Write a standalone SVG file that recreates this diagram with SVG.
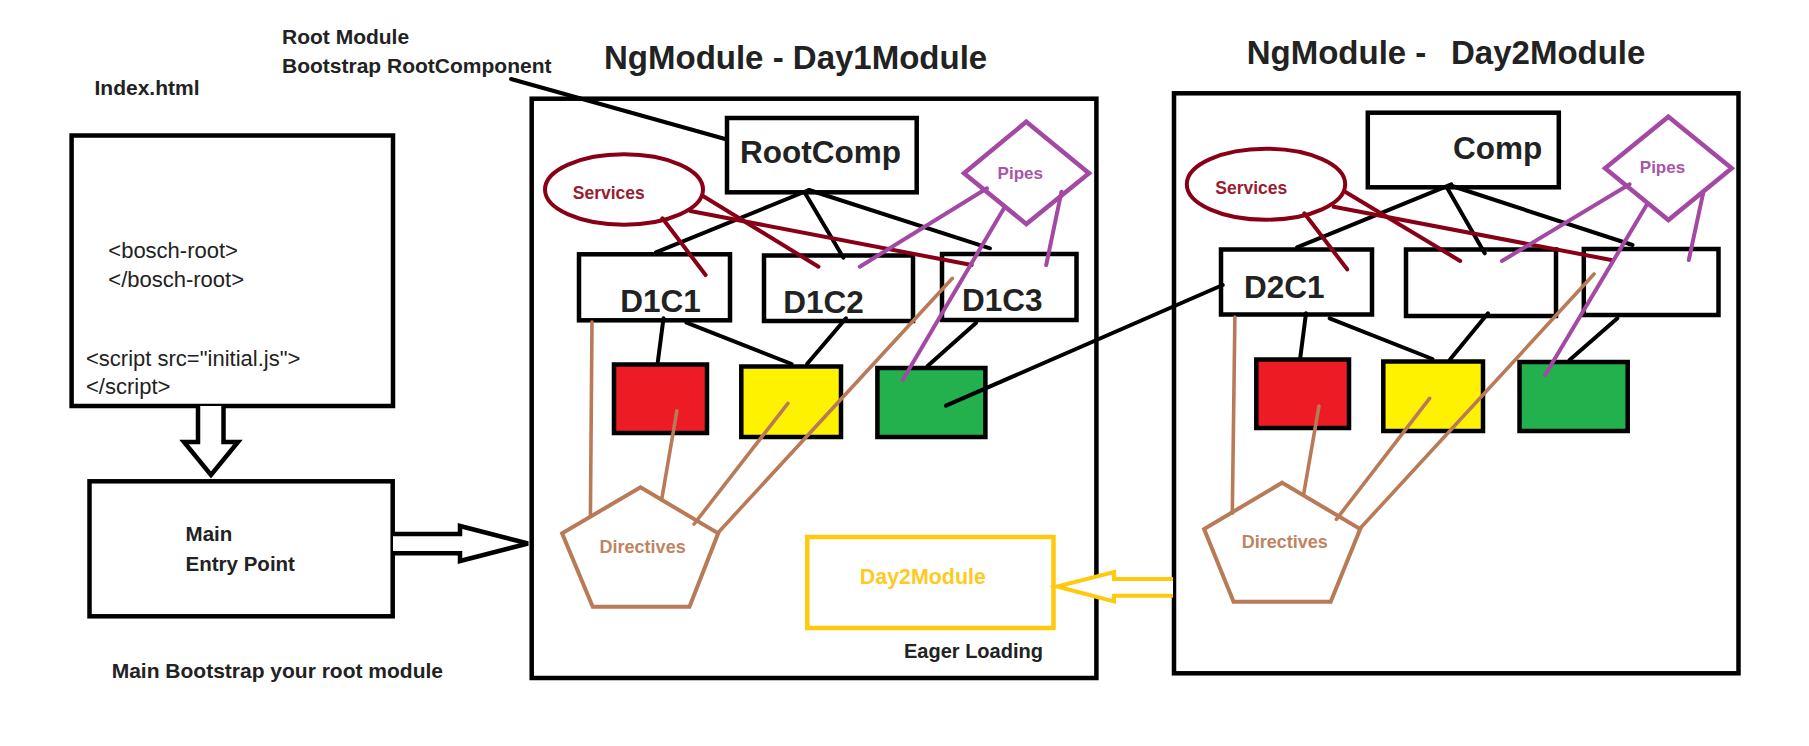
<svg xmlns="http://www.w3.org/2000/svg" width="1809" height="746" viewBox="0 0 1809 746">
<style>
text{font-family:"Liberation Sans",Arial,sans-serif;fill:#222}
.b{font-weight:bold}
.box{fill:#fff;stroke:#000;stroke-width:4.5}
.k{stroke:#000;stroke-width:4;fill:none;stroke-linecap:round}
.dr{stroke:#880015;stroke-width:4;fill:none;stroke-linecap:round}
.pu{stroke:#a349a4;stroke-width:4;fill:none;stroke-linecap:round}
.br{stroke:#b97a57;stroke-width:3.6;fill:none;stroke-linecap:round}
.svc{fill:#fff;stroke:#880015;stroke-width:4}
.svct{fill:#9a1c30;font-weight:bold;font-size:17.5px}
.pip{fill:#fff;stroke:#a349a4;stroke-width:4.5;stroke-linejoin:miter}
.pipt{fill:#a855a9;font-weight:bold;font-size:17px}
.pent{fill:#fff;stroke:#b97a57;stroke-width:4}
.dirt{fill:#bf8463;font-weight:bold;font-size:18px}
.big{font-weight:bold;font-size:31.5px}
</style>
<rect width="1809" height="746" fill="#fff"/>

<!-- left side -->
<g id="index">
<rect class="box" x="71.6" y="135.5" width="321.4" height="270.5"/>
<text x="108.3" y="258.3" font-size="22">&lt;bosch-root&gt;</text>
<text x="108.3" y="287.3" font-size="22">&lt;/bosch-root&gt;</text>
<text x="86" y="366" font-size="22">&lt;script src="initial.js"&gt;</text>
<text x="86" y="394" font-size="22">&lt;/script&gt;</text>
</g>
<g id="main">
<rect class="box" x="89.5" y="481.3" width="303.2" height="135"/>
<text class="b" x="185.6" y="541" font-size="20.5">Main</text>
<text class="b" x="185.6" y="570.7" font-size="20.5">Entry Point</text>
</g>

<!-- Day1 module -->
<g id="day1">
<rect class="box" x="531.7" y="98.7" width="564.7" height="579.3"/>
</g>
<g id="rootcomp">
<rect class="box" x="727" y="118" width="189.7" height="74.3"/>
<text class="big" x="740" y="163.3">RootComp</text>
</g>
<g id="services1">
<ellipse class="svc" cx="624" cy="189.5" rx="79" ry="35.2"/>
<text class="svct" x="572.8" y="199">Services</text>
</g>
<g id="pipes1">
<polygon class="pip" points="1026.3,121.7 1089,173.3 1026.3,224 964,173.3"/>
<text class="pipt" x="997.6" y="179.3">Pipes</text>
</g>
<g id="d1c1">
<rect class="box" x="579" y="254.3" width="151" height="66"/>
<text class="big" x="620.3" y="311.7">D1C1</text>
</g>
<g id="d1c2">
<rect class="box" x="764" y="255.5" width="149" height="65.5"/>
<text class="big" x="783.3" y="313.3">D1C2</text>
</g>
<g id="d1c3">
<rect class="box" x="942" y="254" width="134.5" height="66"/>
<text class="big" x="962" y="311">D1C3</text>
</g>
<g id="red1"><rect x="614" y="364.5" width="93" height="68.5" fill="#ed1c24" stroke="#000" stroke-width="4.5"/></g>
<g id="yellow1"><rect x="741.3" y="366.5" width="99.7" height="70.5" fill="#fff200" stroke="#000" stroke-width="4.5"/></g>
<g id="green1"><rect x="877.4" y="368" width="108" height="69" fill="#22b14c" stroke="#000" stroke-width="4.5"/></g>
<g id="directives1">
<polygon class="pent" points="640.5,487.3 718.2,533.3 689.5,606.7 592.7,606.7 562.1,533.3"/>
<text class="dirt" x="599.6" y="553.3">Directives</text>
</g>
<g id="day2module-ref">
<rect x="807.3" y="537" width="246.2" height="91" fill="#fff" stroke="#ffc90e" stroke-width="4.5"/>
<text class="b" x="859.8" y="584" font-size="21.4" style="fill:#ffca1f">Day2Module</text>
</g>

<!-- Day2 module -->
<g id="day2">
<rect class="box" x="1174" y="93.3" width="564.5" height="580"/>
</g>
<g id="comp">
<rect class="box" x="1367.8" y="112.7" width="191" height="74.6"/>
<text class="big" x="1452.9" y="159.3">Comp</text>
</g>
<g id="services2">
<ellipse class="svc" cx="1266" cy="184.2" rx="79.2" ry="35.5"/>
<text class="svct" x="1215.3" y="194.3">Services</text>
</g>
<g id="pipes2">
<polygon class="pip" points="1668.4,116.7 1731.7,168.3 1668.4,220 1605.1,168.3"/>
<text class="pipt" x="1639.8" y="173.3">Pipes</text>
</g>
<g id="d2c1">
<rect class="box" x="1221" y="249.5" width="151" height="65"/>
<text class="big" x="1243.9" y="297.7">D2C1</text>
</g>
<g id="d2c2"><rect class="box" x="1406" y="249.5" width="150" height="66.5"/></g>
<g id="d2c3"><rect class="box" x="1583.8" y="249" width="134.7" height="66"/></g>
<g id="red2"><rect x="1256.3" y="359.5" width="92.7" height="68.5" fill="#ed1c24" stroke="#000" stroke-width="4.5"/></g>
<g id="yellow2"><rect x="1383.3" y="361.5" width="99.7" height="69.5" fill="#fff200" stroke="#000" stroke-width="4.5"/></g>
<g id="green2"><rect x="1519.5" y="362" width="108.2" height="69" fill="#22b14c" stroke="#000" stroke-width="4.5"/></g>
<g id="directives2">
<polygon class="pent" points="1282.2,482.7 1360.2,529 1330.7,601.7 1233.6,601.7 1204.1,529"/>
<text class="dirt" x="1241.8" y="548.3">Directives</text>
</g>

<!-- free labels -->
<g id="labels">
<text class="b" x="282" y="44" font-size="21">Root Module</text>
<text class="b" x="282" y="73" font-size="21">Bootstrap RootComponent</text>
<text class="b" x="94.5" y="95" font-size="21">Index.html</text>
<text class="b" x="111.7" y="678" font-size="21">Main Bootstrap your root module</text>
<text class="b" x="604" y="69" font-size="33">NgModule - Day1Module</text>
<text class="b" x="1246.7" y="64" font-size="33">NgModule - <tspan x="1451">Day2Module</tspan></text>
<text class="b" x="904" y="658" font-size="20">Eager Loading</text>
</g>

<!-- connectors -->
<g id="connectors">
<!-- block arrows -->
<path d="M198,406 L198,442 L184,442 L211,475 L238,442 L223.5,442 L223.5,406" fill="#fff" stroke="#000" stroke-width="4.5" stroke-linejoin="miter"/>
<path d="M393,534 L460,534 L460,526 L528,543.5 L460,561 L460,553.3 L393,553.3" fill="#fff" stroke="#000" stroke-width="4.5" stroke-linejoin="miter"/>
<path d="M1173,579 L1114,579 L1114,572 L1057,586.5 L1114,601.5 L1114,595.7 L1173,595.7" fill="#fff" stroke="#ffc90e" stroke-width="4" stroke-linejoin="miter"/>

<!-- black -->
<line class="k" x1="511" y1="79" x2="726" y2="139.3"/>
<line class="k" x1="809" y1="190" x2="655.9" y2="252.3"/>
<line class="k" x1="805" y1="193" x2="843.4" y2="257.7"/>
<line class="k" x1="809" y1="190" x2="990" y2="248.3"/>
<line class="k" x1="663.5" y1="318.3" x2="657.8" y2="362"/>
<line class="k" x1="686.5" y1="322.7" x2="791.7" y2="364"/>
<line class="k" x1="846" y1="318.3" x2="807" y2="364"/>
<line class="k" x1="976.2" y1="322.7" x2="927.6" y2="366"/>
<line class="k" x1="946" y1="405.7" x2="1222.7" y2="285"/>
<line class="k" x1="1451.3" y1="184.3" x2="1297" y2="247.3"/>
<line class="k" x1="1447.2" y1="188" x2="1484.7" y2="253.3"/>
<line class="k" x1="1452" y1="186" x2="1632.5" y2="245"/>
<line class="k" x1="1306" y1="313.3" x2="1300.2" y2="358.3"/>
<line class="k" x1="1329.6" y1="318.3" x2="1432.5" y2="359"/>
<line class="k" x1="1488" y1="313.3" x2="1450" y2="359.5"/>
<line class="k" x1="1617.4" y1="318.3" x2="1569.6" y2="360"/>

<!-- dark red (services) -->
<line class="dr" x1="662.4" y1="218.3" x2="705.6" y2="275"/>
<line class="dr" x1="703" y1="196" x2="818.5" y2="266.7"/>
<line class="dr" x1="690.3" y1="211" x2="971.6" y2="265"/>
<line class="dr" x1="1304.3" y1="213.3" x2="1347.2" y2="269.3"/>
<line class="dr" x1="1345.1" y1="191.7" x2="1460.2" y2="261"/>
<line class="dr" x1="1333.7" y1="206.7" x2="1611.3" y2="260"/>

<!-- purple (pipes) -->
<line class="pu" x1="987" y1="188.3" x2="859.8" y2="266.7"/>
<line class="pu" x1="1004" y1="208.3" x2="902.7" y2="380"/>
<line class="pu" x1="1061.5" y1="191.7" x2="1046.2" y2="265"/>
<line class="pu" x1="1629.6" y1="184.3" x2="1501.9" y2="261"/>
<line class="pu" x1="1647.2" y1="204" x2="1545.1" y2="375"/>
<line class="pu" x1="1703.1" y1="193.3" x2="1688.8" y2="260"/>

<!-- brown (directives) -->
<line class="br" x1="592" y1="322" x2="590.4" y2="516.7"/>
<line class="br" x1="676.9" y1="410.7" x2="661.6" y2="500"/>
<line class="br" x1="787.9" y1="403.3" x2="694.1" y2="524"/>
<line class="br" x1="952.4" y1="278.3" x2="719" y2="531.7"/>
<line class="br" x1="1234.9" y1="317" x2="1232.3" y2="513.3"/>
<line class="br" x1="1319" y1="406" x2="1303.8" y2="493.3"/>
<line class="br" x1="1429.6" y1="398.3" x2="1336.4" y2="519.3"/>
<line class="br" x1="1594.1" y1="274" x2="1360.2" y2="528.3"/>
</g>
</svg>
